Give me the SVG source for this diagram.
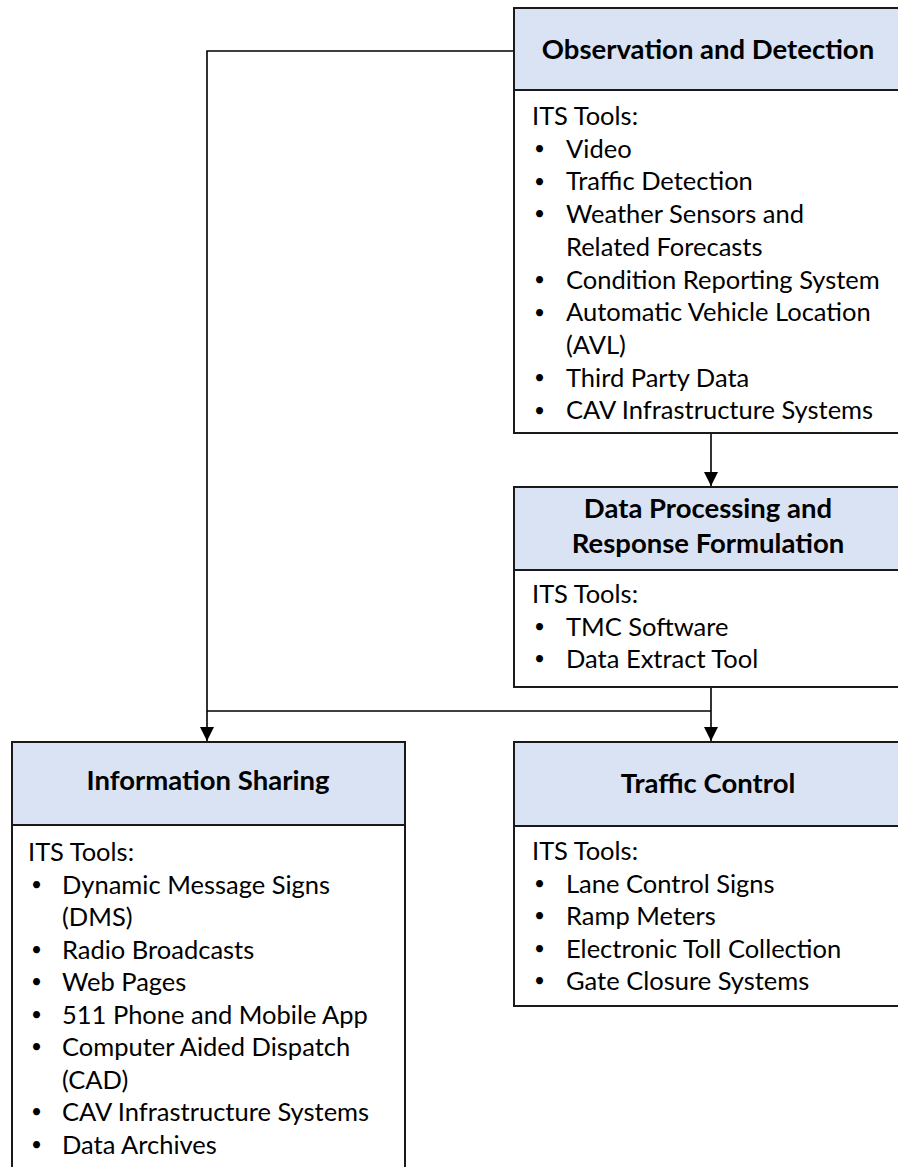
<svg xmlns="http://www.w3.org/2000/svg" width="898" height="1167" viewBox="0 0 898 1167">
<style>
.box{fill:#ffffff;stroke:#1a1a1a;stroke-width:2}
.hdr{fill:#dae3f3;stroke:#1a1a1a;stroke-width:2}
.t{font-family:Lato,"Open Sans",sans-serif;font-size:25.5px;fill:#000}
.b{font-size:19px}
.h{font-family:Lato,"Open Sans",sans-serif;font-size:27.5px;font-weight:bold;fill:#000;text-anchor:middle}
.c{fill:none;stroke:#000;stroke-width:1.6}
</style>
<defs>
<marker id="arr" viewBox="0 0 14 14" refX="14" refY="7" markerWidth="14" markerHeight="14" markerUnits="userSpaceOnUse" orient="auto">
<path d="M0,0 L14,7 L0,14 Z" fill="#000"/>
</marker>
</defs>
<rect width="898" height="1167" fill="#fff"/>
<g id="connectors">
<path class="c" d="M514,51 H207 V741" marker-end="url(#arr)"/>
<path class="c" d="M711,433 V486" marker-end="url(#arr)"/>
<path class="c" d="M711,687 V741" marker-end="url(#arr)"/>
<path class="c" d="M207,711 H711"/>
</g>
<g id="observation">
<rect class="box" x="514" y="8" width="400" height="425"/>
<rect class="hdr" x="514" y="8" width="400" height="82"/>
<text class="h" x="708" y="59">Observation and Detection</text>
<text class="t" x="532" y="125">ITS Tools:</text>
<text class="t"><tspan class="b" x="534" y="155">•</tspan><tspan x="566" y="157.7">Video</tspan></text>
<text class="t"><tspan class="b" x="534" y="187.7">•</tspan><tspan x="566" y="190.4">Traffic Detection</tspan></text>
<text class="t"><tspan class="b" x="534" y="220.3">•</tspan><tspan x="566" y="223">Weather Sensors and</tspan></text>
<text class="t" x="566" y="255.8">Related Forecasts</text>
<text class="t"><tspan class="b" x="534" y="285.8">•</tspan><tspan x="566" y="288.5">Condition Reporting System</tspan></text>
<text class="t"><tspan class="b" x="534" y="318.5">•</tspan><tspan x="566" y="321.2">Automatic Vehicle Location</tspan></text>
<text class="t" x="566" y="353.9">(AVL)</text>
<text class="t"><tspan class="b" x="534" y="383.9">•</tspan><tspan x="566" y="386.6">Third Party Data</tspan></text>
<text class="t"><tspan class="b" x="534" y="416.6">•</tspan><tspan x="566" y="419.3">CAV Infrastructure Systems</tspan></text>
</g>
<g id="processing">
<rect class="box" x="514" y="487" width="400" height="200"/>
<rect class="hdr" x="514" y="487" width="400" height="83"/>
<text class="h" x="708" y="518">Data Processing and</text>
<text class="h" x="708" y="553">Response Formulation</text>
<text class="t" x="532" y="603">ITS Tools:</text>
<text class="t"><tspan class="b" x="534" y="632.8">•</tspan><tspan x="566" y="635.5">TMC Software</tspan></text>
<text class="t"><tspan class="b" x="534" y="665.3">•</tspan><tspan x="566" y="668">Data Extract Tool</tspan></text>
</g>
<g id="information">
<rect class="box" x="12" y="742" width="393" height="440"/>
<rect class="hdr" x="12" y="742" width="393" height="83"/>
<text class="h" x="208" y="790">Information Sharing</text>
<text class="t" x="28" y="861">ITS Tools:</text>
<text class="t"><tspan class="b" x="31" y="890.8">•</tspan><tspan x="62" y="893.5">Dynamic Message Signs</tspan></text>
<text class="t" x="62" y="926">(DMS)</text>
<text class="t"><tspan class="b" x="31" y="955.8">•</tspan><tspan x="62" y="958.5">Radio Broadcasts</tspan></text>
<text class="t"><tspan class="b" x="31" y="988.3">•</tspan><tspan x="62" y="991">Web Pages</tspan></text>
<text class="t"><tspan class="b" x="31" y="1020.8">•</tspan><tspan x="62" y="1023.5">511  Phone and Mobile App</tspan></text>
<text class="t"><tspan class="b" x="31" y="1053.3">•</tspan><tspan x="62" y="1056">Computer Aided Dispatch</tspan></text>
<text class="t" x="62" y="1088.5">(CAD)</text>
<text class="t"><tspan class="b" x="31" y="1118.3">•</tspan><tspan x="62" y="1121">CAV Infrastructure Systems</tspan></text>
<text class="t"><tspan class="b" x="31" y="1150.8">•</tspan><tspan x="62" y="1153.5">Data Archives</tspan></text>
</g>
<g id="traffic">
<rect class="box" x="514" y="742" width="400" height="264"/>
<rect class="hdr" x="514" y="742" width="400" height="84"/>
<text class="h" x="708" y="793">Traffic Control</text>
<text class="t" x="532" y="860">ITS Tools:</text>
<text class="t"><tspan class="b" x="534" y="889.8">•</tspan><tspan x="566" y="892.5">Lane Control Signs</tspan></text>
<text class="t"><tspan class="b" x="534" y="922.3">•</tspan><tspan x="566" y="925">Ramp Meters</tspan></text>
<text class="t"><tspan class="b" x="534" y="954.8">•</tspan><tspan x="566" y="957.5">Electronic Toll Collection</tspan></text>
<text class="t"><tspan class="b" x="534" y="987.3">•</tspan><tspan x="566" y="990">Gate Closure Systems</tspan></text>
</g>
</svg>
